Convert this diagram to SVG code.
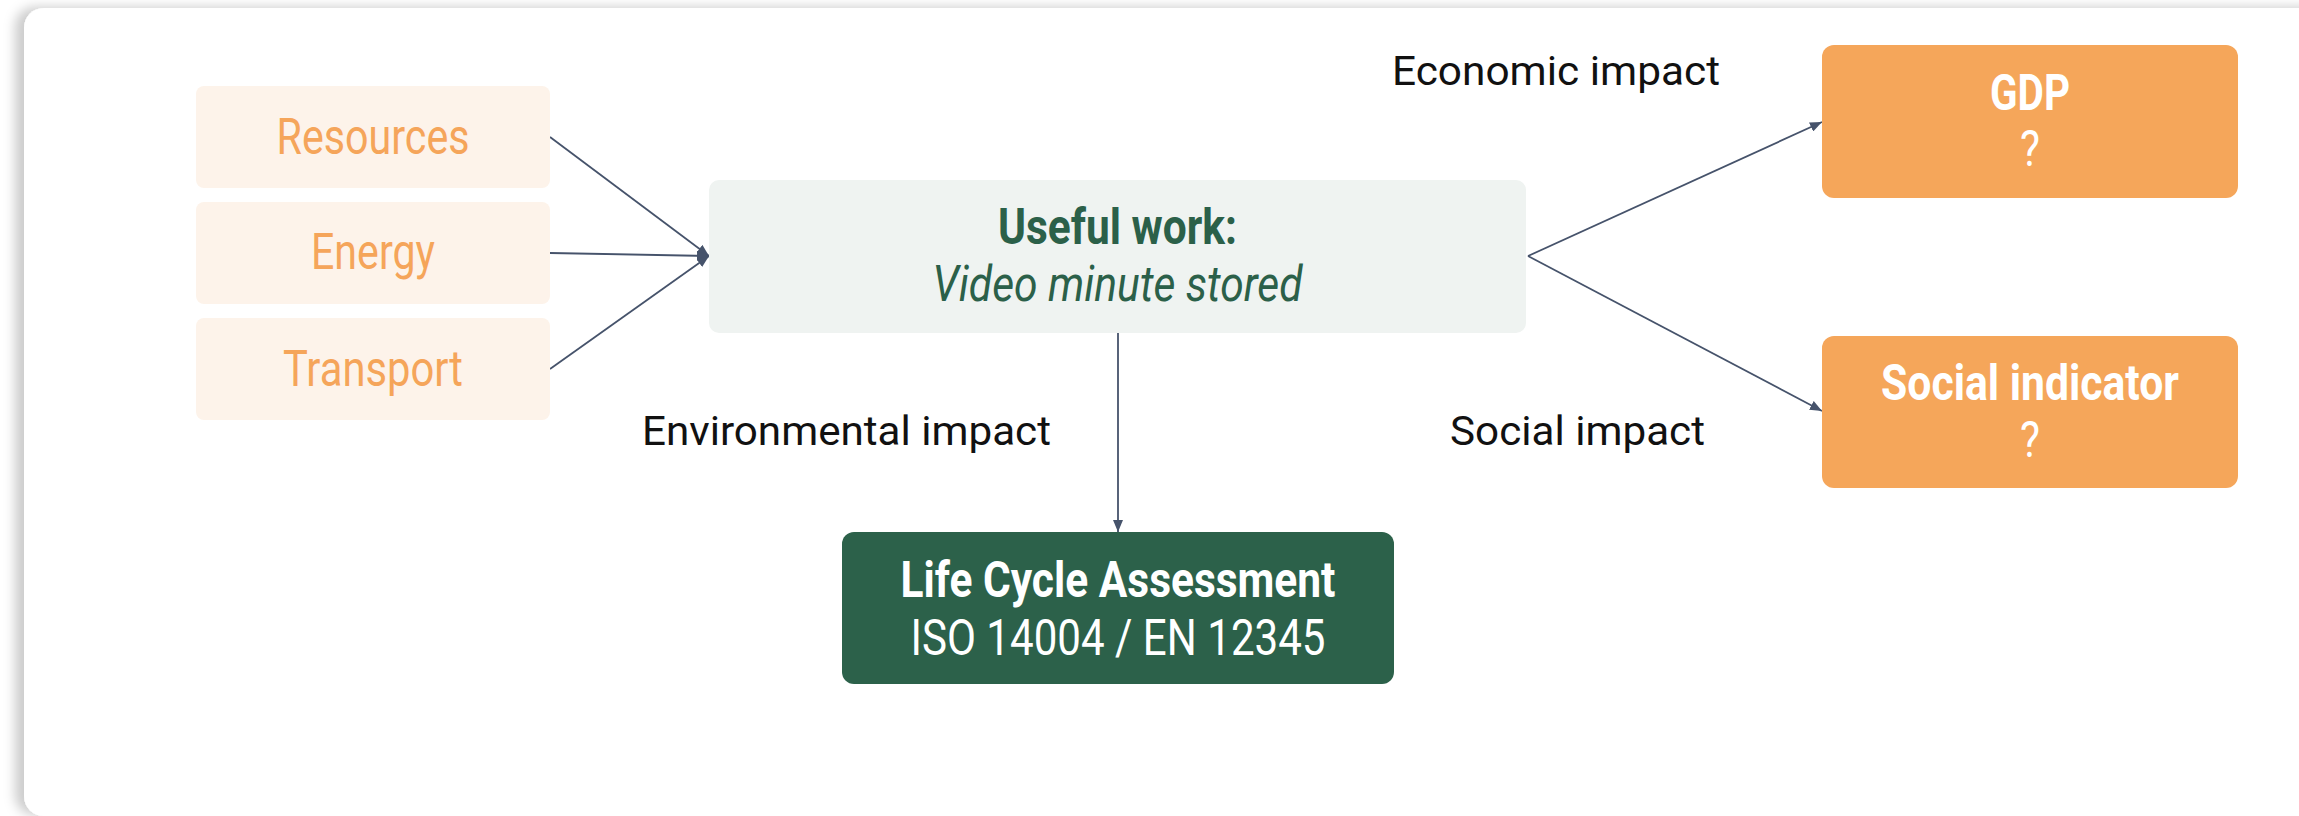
<svg xmlns="http://www.w3.org/2000/svg" width="2299" height="816" viewBox="0 0 2299 816">
  <defs>
    <filter id="cardShadow" x="-5%" y="-5%" width="110%" height="110%">
      <feDropShadow dx="-9" dy="-1" stdDeviation="6" flood-color="#000" flood-opacity="0.2"/>
    </filter>
    <marker id="arrow" viewBox="0 0 12 10" refX="12" refY="5" markerWidth="12" markerHeight="10" markerUnits="userSpaceOnUse" orient="auto">
      <path d="M0,0 L12,5 L0,10 Z" fill="#46536b"/>
    </marker>
    <style>
      .input rect { fill: #fdf3ea; }
      .input text { fill: #f5a55a; font-family: Roboto, "Liberation Sans", sans-serif; font-size: 50px; text-anchor: middle; }
      .work rect { fill: #eff3f1; }
      .work text { fill: #2b6049; font-family: Roboto, "Liberation Sans", sans-serif; font-size: 50px; text-anchor: middle; }
      .lca rect { fill: #2c614a; }
      .out rect { fill: #f5a65a; }
      .lca text, .out text { fill: #ffffff; font-family: Roboto, "Liberation Sans", sans-serif; font-size: 50px; text-anchor: middle; }
      .bold { font-weight: 700; }
      .label { fill: #111111; font-family: Roboto, "Liberation Sans", sans-serif; font-size: 40px; }
      .edge { stroke: #46536b; stroke-width: 1.8; fill: none; marker-end: url(#arrow); }
    </style>
  </defs>

  <rect x="0" y="0" width="2299" height="816" fill="#ffffff"/>
  <!-- white card -->
  <rect x="24" y="8" width="2320" height="808" rx="20" ry="20" fill="#ffffff" filter="url(#cardShadow)"/>

  <!-- connectors -->
  <g id="connectors">
    <line class="edge" x1="550" y1="137" x2="709" y2="256"/>
    <line class="edge" x1="550" y1="253" x2="709" y2="256"/>
    <line class="edge" x1="550" y1="369" x2="709" y2="256"/>
    <line class="edge" x1="1118" y1="333" x2="1118" y2="532"/>
    <line class="edge" x1="1528" y1="256" x2="1822" y2="122"/>
    <line class="edge" x1="1528" y1="256" x2="1822" y2="411"/>
  </g>

  <!-- input nodes -->
  <g id="resources" class="input">
    <rect x="196" y="86" width="354" height="102" rx="8"/>
    <text x="373" y="154" textLength="193" lengthAdjust="spacingAndGlyphs">Resources</text>
  </g>
  <g id="energy" class="input">
    <rect x="196" y="202" width="354" height="102" rx="8"/>
    <text x="373" y="269" textLength="124" lengthAdjust="spacingAndGlyphs">Energy</text>
  </g>
  <g id="transport" class="input">
    <rect x="196" y="318" width="354" height="102" rx="8"/>
    <text x="373" y="386" textLength="180" lengthAdjust="spacingAndGlyphs">Transport</text>
  </g>

  <!-- central node -->
  <g id="useful-work" class="work">
    <rect x="709" y="180" width="817" height="153" rx="10"/>
    <text class="bold" x="1117.5" y="244" textLength="239" lengthAdjust="spacingAndGlyphs">Useful work:</text>
    <text x="1117.5" y="301" font-style="italic" textLength="370" lengthAdjust="spacingAndGlyphs">Video minute stored</text>
  </g>

  <!-- environmental output -->
  <g id="lca" class="lca">
    <rect x="842" y="532" width="552" height="152" rx="12"/>
    <text class="bold" x="1118" y="597" textLength="435" lengthAdjust="spacingAndGlyphs">Life Cycle Assessment</text>
    <text x="1118" y="655" textLength="415" lengthAdjust="spacingAndGlyphs">ISO 14004 / EN 12345</text>
  </g>

  <!-- economic output -->
  <g id="gdp" class="out">
    <rect x="1822" y="45" width="416" height="153" rx="12"/>
    <text class="bold" x="2030" y="110" textLength="80" lengthAdjust="spacingAndGlyphs">GDP</text>
    <text x="2030" y="166" textLength="20" lengthAdjust="spacingAndGlyphs">?</text>
  </g>

  <!-- social output -->
  <g id="social-indicator" class="out">
    <rect x="1822" y="336" width="416" height="152" rx="12"/>
    <text class="bold" x="2030" y="400" textLength="298" lengthAdjust="spacingAndGlyphs">Social indicator</text>
    <text x="2030" y="457" textLength="20" lengthAdjust="spacingAndGlyphs">?</text>
  </g>

  <!-- edge labels -->
  <g id="labels">
    <text class="label" x="1392" y="85" textLength="328" lengthAdjust="spacingAndGlyphs">Economic impact</text>
    <text class="label" x="642" y="445" textLength="409" lengthAdjust="spacingAndGlyphs">Environmental impact</text>
    <text class="label" x="1450" y="445" textLength="255" lengthAdjust="spacingAndGlyphs">Social impact</text>
  </g>
</svg>
